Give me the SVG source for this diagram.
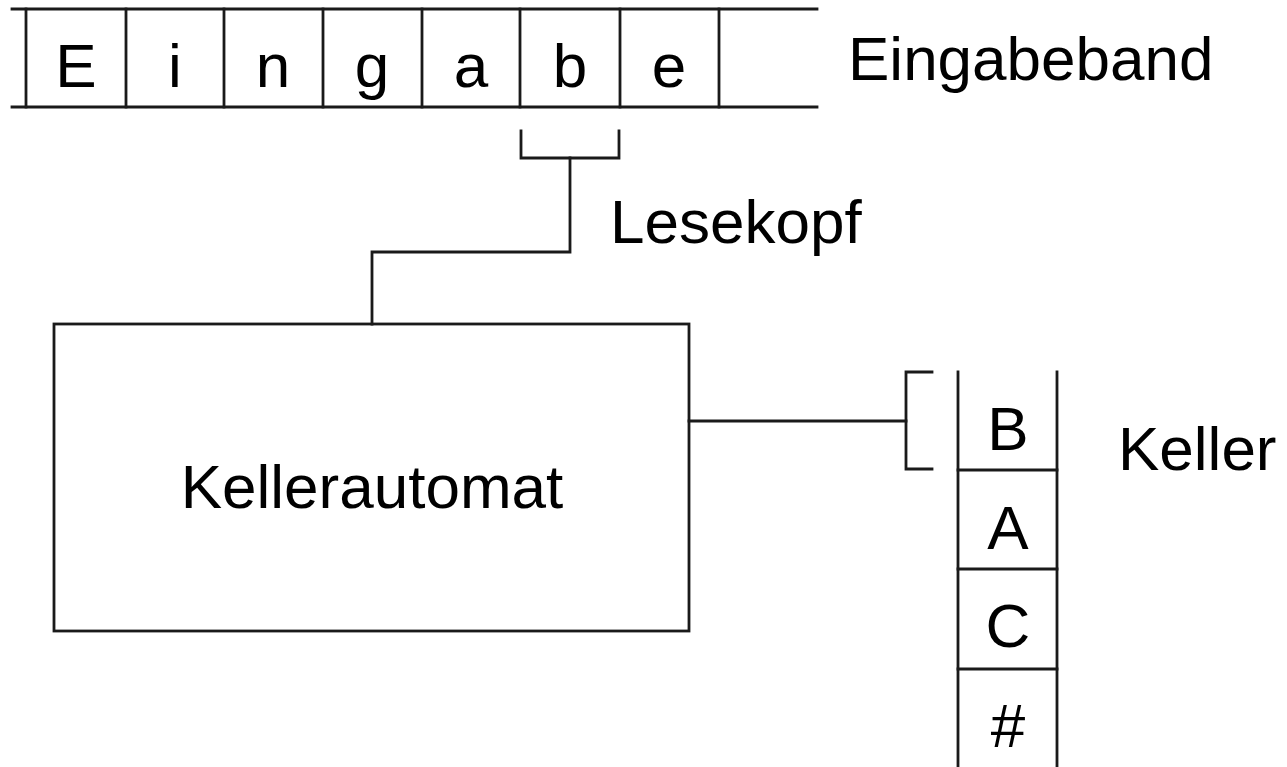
<svg xmlns="http://www.w3.org/2000/svg" width="1287" height="767" viewBox="0 0 1287 767">
<style>
.ln{stroke:#1a1a1a;stroke-width:2.8;fill:none;stroke-linecap:square}
.t{font-family:"Liberation Sans",Arial,sans-serif;font-size:62px;fill:#000}
.c{text-anchor:middle}
</style>
<rect width="1287" height="767" fill="#fff"/>
<g id="eingabeband">
<line class="ln" x1="12" y1="9" x2="817" y2="9"/>
<line class="ln" x1="12" y1="107" x2="817" y2="107"/>
<line class="ln" x1="26" y1="9" x2="26" y2="107"/>
<line class="ln" x1="126" y1="9" x2="126" y2="107"/>
<line class="ln" x1="224" y1="9" x2="224" y2="107"/>
<line class="ln" x1="323" y1="9" x2="323" y2="107"/>
<line class="ln" x1="422" y1="9" x2="422" y2="107"/>
<line class="ln" x1="520" y1="9" x2="520" y2="107"/>
<line class="ln" x1="620" y1="9" x2="620" y2="107"/>
<line class="ln" x1="719" y1="9" x2="719" y2="107"/>
<text class="t c" x="76" y="87">E</text>
<text class="t c" x="175" y="87">i</text>
<text class="t c" x="273" y="87">n</text>
<text class="t c" x="372" y="87">g</text>
<text class="t c" x="471" y="87">a</text>
<text class="t c" x="570" y="87">b</text>
<text class="t c" x="669" y="87">e</text>
<text class="t" x="848" y="80">Eingabeband</text>
</g>
<g id="lesekopf">
<polyline class="ln" points="521,131 521,158 619,158 619,131"/>
<text class="t" x="610" y="243">Lesekopf</text>
</g>
<g id="kellerautomat">
<rect class="ln" x="54" y="324" width="635" height="307"/>
<text class="t c" x="372" y="508">Kellerautomat</text>
</g>
<g id="keller">
<polyline class="ln" points="932,372 906,372 906,469 932,469"/>
<line class="ln" x1="958" y1="372" x2="958" y2="767"/>
<line class="ln" x1="1057" y1="372" x2="1057" y2="767"/>
<line class="ln" x1="958" y1="470" x2="1057" y2="470"/>
<line class="ln" x1="958" y1="569" x2="1057" y2="569"/>
<line class="ln" x1="958" y1="669" x2="1057" y2="669"/>
<text class="t c" x="1008" y="450">B</text>
<text class="t c" x="1008" y="549">A</text>
<text class="t c" x="1008" y="647">C</text>
<text class="t c" x="1008" y="747">#</text>
<text class="t" x="1118" y="470">Keller</text>
</g>
<g id="connectors">
<polyline class="ln" points="570,158 570,252 372,252 372,324"/>
<line class="ln" x1="689" y1="421" x2="906" y2="421"/>
</g>
</svg>
